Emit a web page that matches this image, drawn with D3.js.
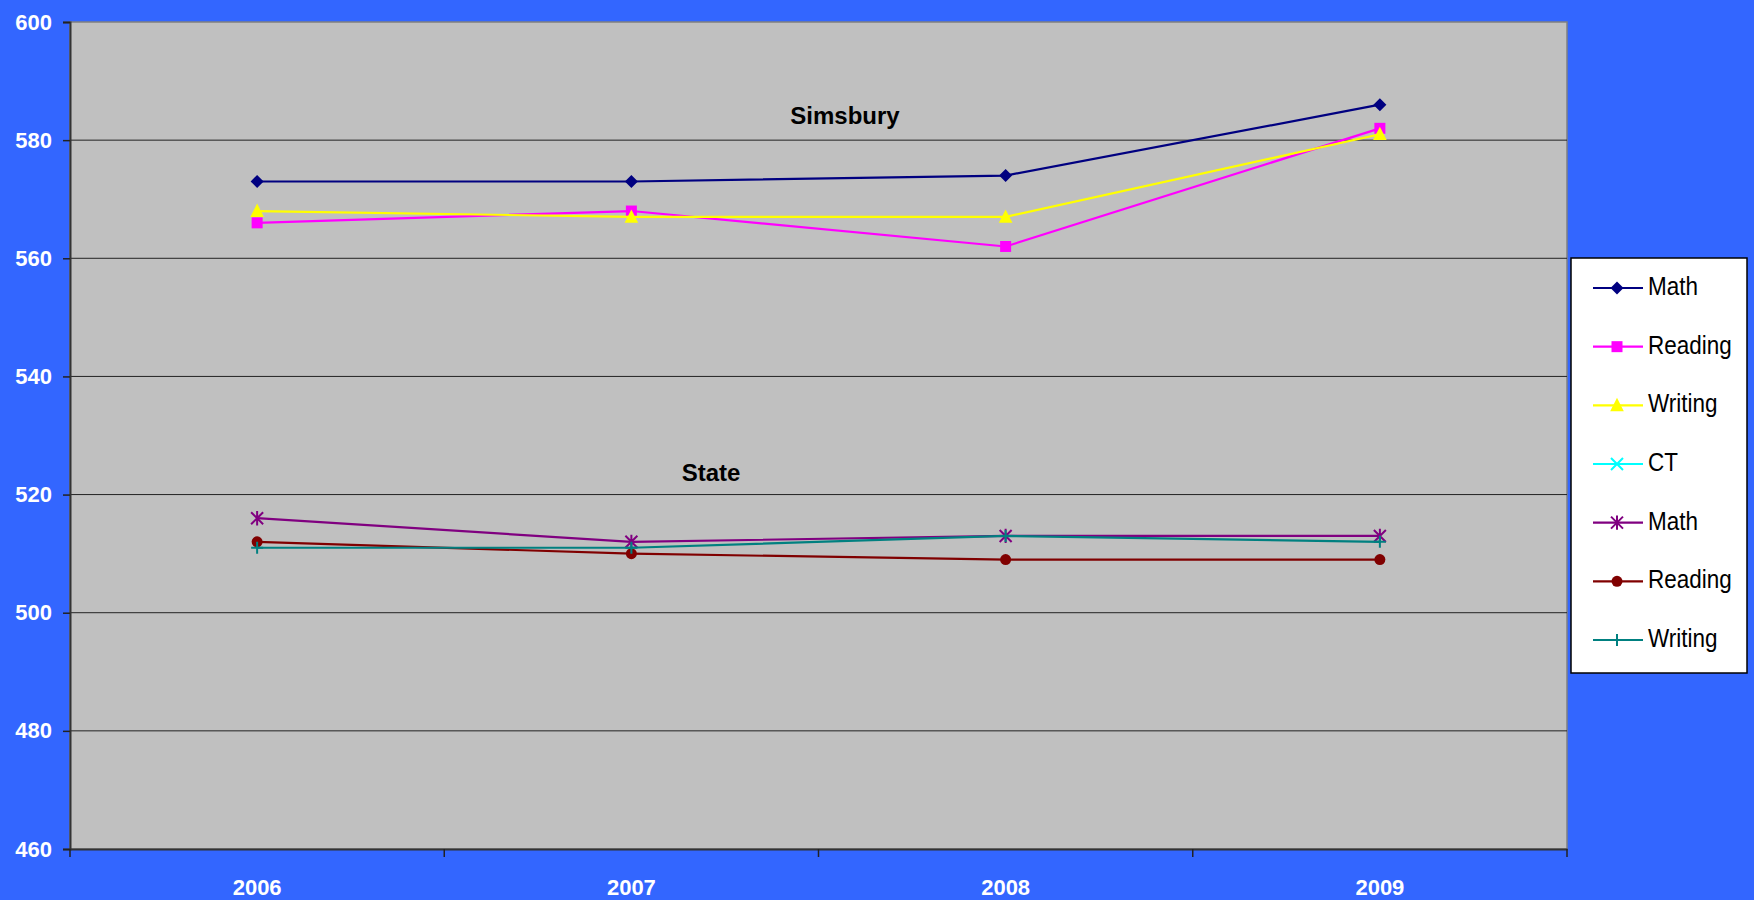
<!DOCTYPE html>
<html>
<head>
<meta charset="utf-8">
<script src="https://cdn.jsdelivr.net/npm/d3@7"></script>
<style>
  html, body { margin: 0; padding: 0; background: #3366ff; }
  svg { display: block; font-family: Arial, "Liberation Sans", sans-serif; }
</style>
</head>
<body>
<div id="chart"></div>
<script>
// chart values
const years = ['2006', '2007', '2008', '2009'];
const yTicks = [460, 480, 500, 520, 540, 560, 580, 600];

const simsburyMath = [573, 573, 574, 586];
const simsburyReading = [566, 568, 562, 582];
const simsburyWriting = [568, 567, 567, 581];
const ctScores = [null, null, null, null];   // shown in legend only
const stateMath = [516, 512, 513, 513];
const stateReading = [512, 510, 509, 509];
const stateWriting = [511, 511, 513, 512];

const seriesNames = ['Math', 'Reading', 'Writing', 'CT', 'Math', 'Reading', 'Writing'];
const seriesValues = [simsburyMath, simsburyReading, simsburyWriting, ctScores, stateMath, stateReading, stateWriting];
const seriesColors = ['#000080', '#ff00ff', '#ffff00', '#00ffff', '#800080', '#800000', '#008080'];
const seriesMarkers = ['diamond', 'square', 'triangle', 'x', 'asterisk', 'circle', 'plus'];

const series = seriesNames.map((name, i) => ({
    name: name,
    values: seriesValues[i],
    color: seriesColors[i],
    marker: seriesMarkers[i]
}));

const W = 1754, H = 900;
const plot = { left: 70, top: 22, right: 1567, bottom: 849 };

const svg = d3.select('#chart').append('svg')
    .attr('width', W)
    .attr('height', H);

svg.append('rect')
    .attr('width', W).attr('height', H)
    .attr('fill', '#3366ff');

const x = d3.scaleBand().domain(years).range([plot.left, plot.right]).padding(0);
const y = d3.scaleLinear().domain([460, 600]).range([plot.bottom, plot.top]);
const cx = d => x(d) + x.bandwidth() / 2;

// plot area
svg.append('rect')
    .attr('x', plot.left).attr('y', plot.top)
    .attr('width', plot.right - plot.left).attr('height', plot.bottom - plot.top)
    .attr('fill', '#c0c0c0')
    .attr('stroke', '#808080')
    .attr('stroke-width', 1.5);

// gridlines
svg.append('g')
    .selectAll('line')
    .data(yTicks.filter(t => t !== 460 && t !== 600))
    .enter().append('line')
    .attr('x1', plot.left).attr('x2', plot.right)
    .attr('y1', d => y(d)).attr('y2', d => y(d))
    .attr('stroke', '#222')
    .attr('stroke-width', 1);

// y axis
const yAxis = svg.append('g')
    .attr('transform', 'translate(' + plot.left + ',0)')
    .call(d3.axisLeft(y).tickValues(yTicks).tickSize(7).tickPadding(11).tickFormat(d3.format('d')));
yAxis.select('.domain').attr('stroke', '#333').attr('stroke-width', 2);
yAxis.selectAll('.tick line').attr('stroke', '#222').attr('stroke-width', 1.5);
yAxis.selectAll('.tick text')
    .attr('fill', '#fff')
    .style('font-size', '22px')
    .style('font-weight', 'bold')
    .style('font-family', 'Arial, "Liberation Sans", sans-serif');

// x axis
const xAxis = svg.append('g')
    .attr('transform', 'translate(0,' + plot.bottom + ')')
    .call(d3.axisBottom(x).tickSize(0).tickPadding(30));
xAxis.select('.domain').attr('stroke', '#333').attr('stroke-width', 2);
xAxis.selectAll('.tick text')
    .attr('fill', '#fff')
    .style('font-size', '22px')
    .style('font-weight', 'bold')
    .style('font-family', 'Arial, "Liberation Sans", sans-serif');

// category separator ticks
xAxis.selectAll('line.sep')
    .data(years.concat(['end']))
    .enter().append('line')
    .attr('class', 'sep')
    .attr('x1', (d, i) => plot.left + i * x.bandwidth())
    .attr('x2', (d, i) => plot.left + i * x.bandwidth())
    .attr('y1', 0).attr('y2', 8)
    .attr('stroke', '#222')
    .attr('stroke-width', 1.5);

// marker shapes
function markerPath(type, s) {
    switch (type) {
        case 'diamond':
            return 'M0,' + (-s) + 'L' + s + ',0L0,' + s + 'L' + (-s) + ',0Z';
        case 'square':
            return 'M' + (-s) + ',' + (-s) + 'h' + 2 * s + 'v' + 2 * s + 'h' + (-2 * s) + 'Z';
        case 'triangle':
            return 'M0,' + (-s * 1.15) + 'L' + s * 1.05 + ',' + s * 0.9 + 'L' + (-s * 1.05) + ',' + s * 0.9 + 'Z';
        case 'x':
            return 'M' + (-s) + ',' + (-s) + 'L' + s + ',' + s + 'M' + (-s) + ',' + s + 'L' + s + ',' + (-s);
        case 'plus':
            return 'M' + (-s) + ',0L' + s + ',0M0,' + (-s) + 'L0,' + s;
        case 'asterisk':
            return 'M' + (-s) + ',' + (-s) + 'L' + s + ',' + s + 'M' + (-s) + ',' + s + 'L' + s + ',' + (-s) + 'M0,' + (-s * 1.2) + 'L0,' + s * 1.2;
        default:
            return '';
    }
}
const strokeMarkers = ['x', 'plus', 'asterisk'];

function drawMarker(g, type, color) {
    if (type === 'circle') {
        g.append('circle').attr('r', 5.5).attr('fill', color);
    } else if (strokeMarkers.includes(type)) {
        g.append('path').attr('d', markerPath(type, 6))
            .attr('fill', 'none').attr('stroke', color).attr('stroke-width', 2);
    } else {
        const s = type === 'square' ? 5.5 : 6.5;
        g.append('path').attr('d', markerPath(type, s)).attr('fill', color);
    }
}

const line = d3.line()
    .defined(d => d.v !== null)
    .x(d => cx(d.year))
    .y(d => y(d.v));

series.forEach(s => {
    const pts = s.values.map((v, i) => ({ year: years[i], v: v }));
    svg.append('path')
        .datum(pts)
        .attr('d', line)
        .attr('fill', 'none')
        .attr('stroke', s.color)
        .attr('stroke-width', 2.2);
    pts.filter(p => p.v !== null).forEach(p => {
        const g = svg.append('g').attr('transform', 'translate(' + cx(p.year) + ',' + y(p.v) + ')');
        drawMarker(g, s.marker, s.color);
    });
});

// group labels
svg.append('text')
    .attr('x', 845).attr('y', 124)
    .attr('text-anchor', 'middle')
    .style('font-size', '24px').style('font-weight', 'bold')
    .text('Simsbury');
svg.append('text')
    .attr('x', 711).attr('y', 481)
    .attr('text-anchor', 'middle')
    .style('font-size', '24px').style('font-weight', 'bold')
    .text('State');

// legend
const legend = svg.append('g');
legend.append('rect')
    .attr('x', 1571).attr('y', 258)
    .attr('width', 176).attr('height', 415)
    .attr('fill', '#fff')
    .attr('stroke', '#000')
    .attr('stroke-width', 1.5);

const rowY = d3.scaleLinear().domain([0, 6]).range([288, 640]);
series.forEach((s, i) => {
    const gy = rowY(i);
    legend.append('line')
        .attr('x1', 1593).attr('x2', 1643)
        .attr('y1', gy).attr('y2', gy)
        .attr('stroke', s.color).attr('stroke-width', 2.2);
    const g = legend.append('g').attr('transform', 'translate(1617,' + gy + ')');
    drawMarker(g, s.marker, s.color);
    legend.append('text')
        .attr('x', 1648).attr('y', gy + 7)
        .attr('transform', 'translate(0,' + (gy + 7) + ') scale(1,1.12) translate(0,' + (-(gy + 7)) + ')')
        .style('font-size', '22.5px')
        .attr('fill', '#000')
        .text(s.name);
});
</script>
</body>
</html>
